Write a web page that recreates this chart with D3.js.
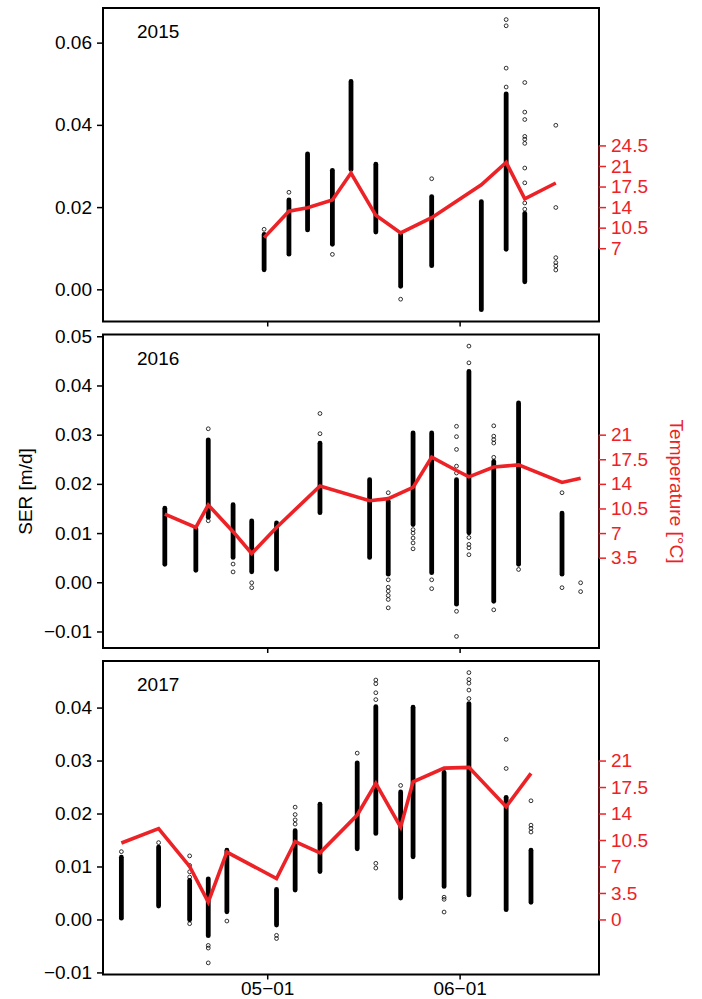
<!DOCTYPE html>
<html>
<head>
<meta charset="utf-8">
<script src="https://cdn.jsdelivr.net/npm/d3@7"></script>
<style>
  body { margin: 0; background: #fff; }
  svg text { font-family: "Liberation Sans", Arial, Helvetica, sans-serif; }
</style>
</head>
<body>
<div id="chart"></div>
<script>
var years = ["2015", "2016", "2017"];

// sampling days (month-day), one cluster of SER values per day
var days2015 = ["04-30", "05-04", "05-07", "05-11", "05-14", "05-18", "05-22", "05-27", "06-04", "06-08", "06-11", "06-16"];
var days2016 = ["04-14", "04-19", "04-21", "04-25", "04-28", "05-02", "05-09", "05-17", "05-20", "05-24", "05-27", "05-31", "06-02", "06-06", "06-10", "06-17", "06-20"];
var days2017 = ["04-07", "04-13", "04-18", "04-21", "04-24", "05-02", "05-05", "05-09", "05-15", "05-18", "05-22", "05-24", "05-29", "06-02", "06-08", "06-12"];

// daily mean temperature [°C]
var temp2015 = [8.8, 13.3, 13.9, 15.2, 19.8, 12.6, 9.6, 12.2, 17.8, 21.6, 15.4, 18.1];
var temp2016 = [9.7, 7.8, 11.0, 7.2, 4.1, 7.8, 13.7, 11.6, 11.9, 13.5, 17.8, 15.9, 15.0, 16.4, 16.7, 14.2, 14.8];
var temp2017 = [10.1, 12.0, 7.0, 2.3, 8.9, 5.4, 10.3, 8.8, 13.8, 18.0, 12.2, 18.2, 20.0, 20.1, 14.9, 19.3];

// dense part of each day's SER cloud [m/d] (null = no dense part)
var lo2015 = [0.0047, 0.0085, 0.0144, 0.0109, 0.0291, 0.0139, 0.0007, 0.0057, -0.0050, 0.0097, 0.0018, null];
var hi2015 = [0.0134, 0.0218, 0.0330, 0.0290, 0.0506, 0.0305, 0.0134, 0.0226, 0.0214, 0.0476, 0.0185, null];
var lo2016 = [0.0036, 0.0024, 0.0132, 0.0050, 0.0021, 0.0026, 0.0141, 0.0050, 0.0016, 0.0117, 0.0019, -0.0045, 0.0100, -0.0039, 0.0036, 0.0016, null];
var hi2016 = [0.0151, 0.0109, 0.0290, 0.0158, 0.0125, 0.0121, 0.0283, 0.0209, 0.0165, 0.0304, 0.0304, 0.0209, 0.0429, 0.0246, 0.0365, 0.0141, null];
var lo2017 = [0.0002, 0.0025, -0.0001, -0.0031, 0.0014, -0.0011, 0.0055, 0.0090, 0.0133, 0.0162, 0.0040, 0.0118, 0.0062, 0.0046, 0.0018, 0.0032];
var hi2017 = [0.0118, 0.0137, 0.0074, 0.0077, 0.0131, 0.0057, 0.0168, 0.0218, 0.0296, 0.0402, 0.0241, 0.0401, 0.0278, 0.0408, 0.0231, 0.0131];

// single scattered SER values outside the dense part
var out2015 = [[0.0146], [0.0236], [], [0.0085], [], [], [-0.0024], [0.0269], [],
  [0.0656, 0.0641, 0.0538, 0.0492],
  [0.0503, 0.0431, 0.0413, 0.0372, 0.0365, 0.0355, 0.0295, 0.0259, 0.0210, 0.0195],
  [0.0399, 0.0199, 0.0077, 0.0065, 0.0057, 0.0047]];
var out2016 = [[], [], [0.0312, 0.0125], [0.0037, 0.0021], [-0.0001, -0.0011], [], [0.0343, 0.0302], [],
  [0.0182, 0.0005, -0.0010, -0.0018, -0.0027, -0.0035, -0.0052],
  [0.0107, 0.0100, 0.0090, 0.0080, 0.0068],
  [0.0005, -0.0013],
  [0.0317, 0.0296, 0.0270, 0.0236, 0.0222, -0.0059, -0.0110],
  [0.0480, 0.0446, 0.0091, 0.0077, 0.0070, 0.0056],
  [0.0318, 0.0297, 0.0290, 0.0283, 0.0254, -0.0056],
  [0.0026], [0.0182, -0.0011], [-0.0001, -0.0019]];
var out2017 = [[0.0128], [0.0145], [0.0120, 0.0102, 0.0090, 0.0080, -0.0008], [-0.0049, -0.0054, -0.0082],
  [-0.0003], [-0.0030, -0.0036], [0.0212, 0.0198, 0.0188, 0.0180], [], [0.0314],
  [0.0452, 0.0445, 0.0428, 0.0415, 0.0106, 0.0097], [0.0253], [], [0.0042, 0.0038, 0.0014],
  [0.0466, 0.0453, 0.0446, 0.0433, 0.0417], [0.0340, 0.0285], [0.0224, 0.0178, 0.0172, 0.0165]];

var serTicks = [[0, 0.02, 0.04, 0.06], [-0.01, 0, 0.01, 0.02, 0.03, 0.04, 0.05], [-0.01, 0, 0.01, 0.02, 0.03, 0.04]];
var tempTicks = [[7, 10.5, 14, 17.5, 21, 24.5], [3.5, 7, 10.5, 14, 17.5, 21], [0, 3.5, 7, 10.5, 14, 17.5, 21]];
var dateTicks = ["05-01", "06-01"];

var tempPerSer = 700; // right axis = left axis * 700

var red = "#ec2227",
    fontSize = "19px";

var margin = { top: 8, left: 103 },
    plotW = 496,
    plotH = 313.5,
    gap = 13;

var parseDay = d3.utcParse("%m-%d");
function noon(s) { return d3.utcHour.offset(parseDay(s), 12); } // samples sit at midday

var panels = [
  { year: years[0], days: days2015, temp: temp2015, lo: lo2015, hi: hi2015, out: out2015 },
  { year: years[1], days: days2016, temp: temp2016, lo: lo2016, hi: hi2016, out: out2016 },
  { year: years[2], days: days2017, temp: temp2017, lo: lo2017, hi: hi2017, out: out2017 }
];

// padded range like R's default (4% each side)
function padded(ext) {
  var r = ext[1] - ext[0];
  return [ext[0] - 0.04 * r, ext[1] + 0.04 * r];
}

var allDates = [].concat(days2015, days2016, days2017).map(noon);
var xExt = d3.extent(allDates);
var xSpan = xExt[1] - xExt[0];
var x = d3.scaleUtc()
    .domain([new Date(+xExt[0] - 0.04 * xSpan), new Date(+xExt[1] + 0.04 * xSpan)])
    .range([margin.left, margin.left + plotW]);

var svg = d3.select("#chart").append("svg")
    .attr("width", 702)
    .attr("height", 999);

panels.forEach(function(p, i) {
  var top = margin.top + i * (plotH + gap);

  var vals = [];
  p.days.forEach(function(d, j) {
    if (p.lo[j] !== null) { vals.push(p.lo[j], p.hi[j]); }
    vals = vals.concat(p.out[j]);
  });

  var y = d3.scaleLinear().domain(padded(d3.extent(vals))).range([top + plotH, top]);
  var y2 = d3.scaleLinear().domain(y.domain().map(function(v) { return v * tempPerSer; })).range(y.range());

  var g = svg.append("g");

  // dense clouds
  var bands = p.days.map(function(d, j) { return { date: noon(d), lo: p.lo[j], hi: p.hi[j] }; })
      .filter(function(d) { return d.lo !== null; });
  g.selectAll(".band")
      .data(bands)
      .enter().append("rect")
      .attr("x", function(d) { return x(d.date) - 2.4; })
      .attr("y", function(d) { return y(d.hi) - 2.2; })
      .attr("width", 4.8)
      .attr("height", function(d) { return y(d.lo) - y(d.hi) + 4.4; })
      .attr("rx", 2.4)
      .style("fill", "#000");

  // single points
  var pts = [];
  p.days.forEach(function(d, j) {
    p.out[j].forEach(function(v) { pts.push({ date: noon(d), v: v }); });
  });
  g.selectAll(".pt")
      .data(pts)
      .enter().append("circle")
      .attr("cx", function(d) { return x(d.date); })
      .attr("cy", function(d) { return y(d.v); })
      .attr("r", 1.9)
      .style("fill", "none")
      .style("stroke", "#000")
      .style("stroke-width", 0.8);

  // temperature line
  var line = d3.line()
      .x(function(d) { return x(d.date); })
      .y(function(d) { return y2(d.t); });
  g.append("path")
      .datum(p.days.map(function(d, j) { return { date: noon(d), t: p.temp[j] }; }))
      .attr("d", line)
      .style("fill", "none")
      .style("stroke", red)
      .style("stroke-width", 3.6)
      .style("stroke-linejoin", "miter");

  // frame
  g.append("rect")
      .attr("x", margin.left)
      .attr("y", top)
      .attr("width", plotW)
      .attr("height", plotH)
      .style("fill", "none")
      .style("stroke", "#000")
      .style("stroke-width", 2);

  // left axis
  var yAxis = g.append("g")
      .attr("transform", "translate(" + margin.left + ",0)")
      .call(d3.axisLeft(y).tickValues(serTicks[i]).tickSize(6).tickPadding(5).tickFormat(d3.format(".2f")));
  yAxis.select(".domain").remove();
  yAxis.selectAll("line").style("stroke-width", 1.5);
  yAxis.selectAll("text").style("font-size", fontSize).style("fill", "#000");

  // right axis (temperature)
  var tAxis = g.append("g")
      .attr("transform", "translate(" + (margin.left + plotW) + ",0)")
      .call(d3.axisRight(y2).tickValues(tempTicks[i]).tickSize(7).tickPadding(5).tickFormat(d3.format("")));
  tAxis.select(".domain").remove();
  tAxis.selectAll("line").style("stroke", red).style("stroke-width", 1.5);
  tAxis.selectAll("text").style("font-size", fontSize).style("fill", red);
  tAxis.append("line")
      .attr("y1", y2(tempTicks[i][0]))
      .attr("y2", y2(tempTicks[i][tempTicks[i].length - 1]))
      .style("stroke", red)
      .style("stroke-opacity", 0.45)
      .style("stroke-width", 2);

  // bottom date ticks, labels only on the last panel
  var xAxis = g.append("g")
      .attr("transform", "translate(0," + (top + plotH) + ")")
      .call(d3.axisBottom(x).tickValues(dateTicks.map(parseDay)).tickSize(5).tickPadding(2)
        .tickFormat(i === panels.length - 1 ? d3.utcFormat("%m\u2212%d") : ""));
  xAxis.select(".domain").remove();
  xAxis.selectAll("line").style("stroke-width", 1.5);
  xAxis.selectAll("text").style("font-size", fontSize).style("fill", "#000");

  // year label
  g.append("text")
      .attr("x", 137)
      .attr("y", top + 30)
      .style("font-size", fontSize)
      .text(p.year);
});

svg.append("text")
    .attr("transform", "translate(25,491.5) rotate(-90)")
    .attr("text-anchor", "middle")
    .attr("dy", "0.35em")
    .style("font-size", fontSize)
    .text("SER [m/d]");

svg.append("text")
    .attr("transform", "translate(677,491.5) rotate(90)")
    .attr("text-anchor", "middle")
    .attr("dy", "0.35em")
    .style("font-size", fontSize)
    .style("fill", red)
    .text("Temperature [°C]");
</script>
</body>
</html>
